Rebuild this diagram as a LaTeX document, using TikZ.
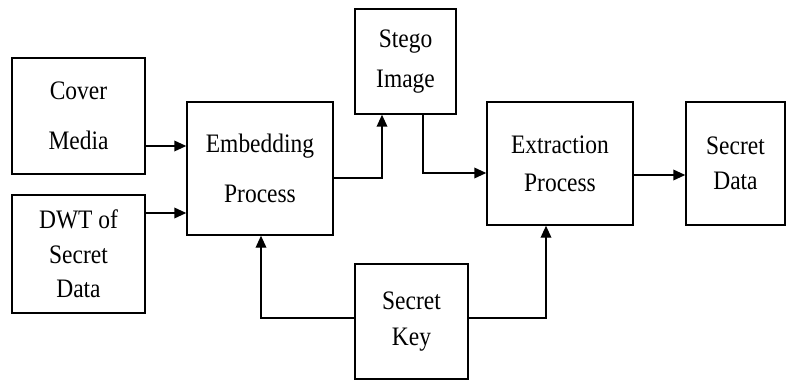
\documentclass[tikz,border=0pt]{standalone}
\usepackage{fontspec}
\setmainfont[FakeStretch=0.88]{Liberation Serif}
\usetikzlibrary{arrows.meta}

\tikzset{
  blk/.style={draw, line width=1.1pt, align=center, inner sep=0pt,
    font=\fontsize{20}{28}\selectfont},
  gap/.style={execute at begin node=\setlength{\baselineskip}{#1}},
  flow/.style={line width=1.1pt, -{Triangle[length=9pt,width=8pt]}}
}

\begin{document}
\begin{tikzpicture}[x=0.75pt,y=0.75pt,yscale=-1,xscale=1]
\useasboundingbox (0,0) rectangle (789,381);

% Blocks
\node [blk, gap=37.5pt, minimum width=99.75pt, minimum height=87pt] (cover) at (78.5,116) {Cover\\Media};
\node [blk, gap=26pt, minimum width=99.75pt, minimum height=88.5pt] (dwt) at (78.5,254) {DWT of\\Secret\\Data};
\node [blk, gap=37.5pt, minimum width=109.5pt, minimum height=99.75pt] (embed) at (260,168.5) {Embedding\\Process};
\node [blk, gap=30pt, minimum width=75.75pt, minimum height=78.75pt] (stego) at (405.5,61.5) {Stego\\Image};
\node [blk, gap=28.5pt, minimum width=109.5pt, minimum height=92.25pt] (extract) at (560,163.5) {Extraction\\Process};
\node [blk, gap=26pt, minimum width=74.25pt, minimum height=92.25pt] (secdata) at (735.5,163.5) {Secret\\Data};
\node [blk, gap=27pt, minimum width=84.75pt, minimum height=86.25pt] (key) at (411.5,321.5) {Secret\\Key};

% Connectors
\draw [flow] (cover.east |- 0,146) -- (embed.west |- 0,146);
\draw [flow] (dwt.east |- 0,213) -- (embed.west |- 0,213);
\draw [flow] (embed.east |- 0,178) -| (stego.south -| 382,0);
\draw [flow] (stego.south -| 423,0) |- (extract.west |- 0,173);
\draw [flow] (extract.east |- 0,175) -- (secdata.west |- 0,175);
\draw [flow] (key.west |- 0,318) -| (embed.south -| 261,0);
\draw [flow] (key.east |- 0,318) -| (extract.south -| 546,0);

\end{tikzpicture}
\end{document}
